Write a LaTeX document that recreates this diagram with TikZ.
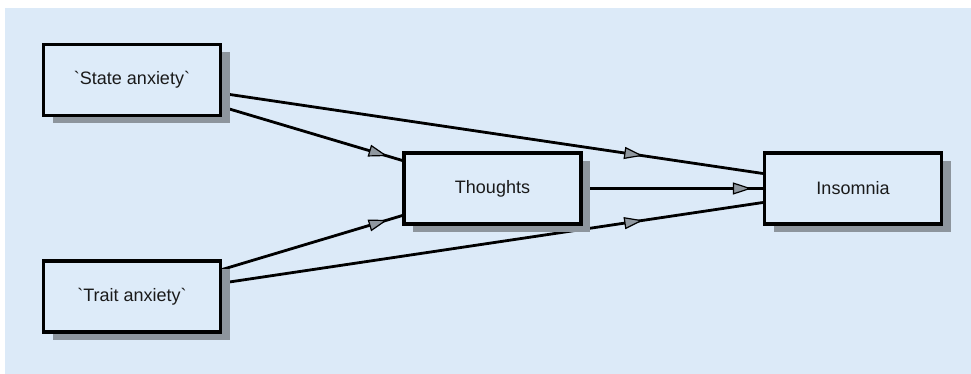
\documentclass[tikz,border=0pt]{standalone}
\usepackage{fontspec}
\newfontfamily\lab{Liberation Sans}
\usetikzlibrary{arrows.meta,decorations.markings,shadows,calc}
\definecolor{bgblue}{HTML}{DCEAF8}
\definecolor{boxblue}{HTML}{DDEBF9}
\definecolor{shadowgray}{HTML}{8D959D}
\definecolor{tipgray}{HTML}{8F979F}
\definecolor{txt}{HTML}{1A1A1A}
\pgfdeclarelayer{bg}
\pgfdeclarelayer{lines}
\pgfsetlayers{bg,lines,main}
\tikzset{
  varbox/.style={draw=black, line width=3.2pt, fill=boxblue, minimum width=177pt, minimum height=71pt,
    inner sep=0pt, font=\lab\fontsize{18}{21}\selectfont, text=txt,
    drop shadow={shadow xshift=9pt, shadow yshift=-8pt, fill=shadowgray, opacity=1}},
  link/.style={line width=2.8pt, draw=black, postaction={decorate},
    decoration={markings, mark=at position #1 with {\arrow{Triangle[length=19pt,width=12pt,fill=tipgray,line width=1.2pt]}}}}
}
\begin{document}
\begin{tikzpicture}[x=1pt,y=-1pt]
\useasboundingbox (0,0) rectangle (971,374);
\begin{pgfonlayer}{bg}
\fill[white] (0,0) rectangle (971,374);
\fill[bgblue] (5,8) rectangle (971,374);
\end{pgfonlayer}
\node[varbox] (state) at (132,80) {\textasciigrave State anxiety\textasciigrave};
\node[varbox] (trait) at (132,296.5) {\textasciigrave Trait anxiety\textasciigrave};
\node[varbox] (thoughts) at (492.5,188.5) {Thoughts};
\node[varbox] (insomnia) at (853,188.5) {Insomnia};
\begin{pgfonlayer}{lines}
\draw[link=-15.5pt] (state.center) -- ($(thoughts.west)+(0,-28)$);
\draw[link=-121pt] (state.center) -- ($(insomnia.west)+(0,-15)$);
\draw[link=-11pt] (thoughts.center) -- (insomnia.west);
\draw[link=-15.5pt] (trait.center) -- ($(thoughts.west)+(0,27)$);
\draw[link=-121pt] (trait.center) -- ($(insomnia.west)+(0,14)$);
\end{pgfonlayer}
\end{tikzpicture}
\end{document}
